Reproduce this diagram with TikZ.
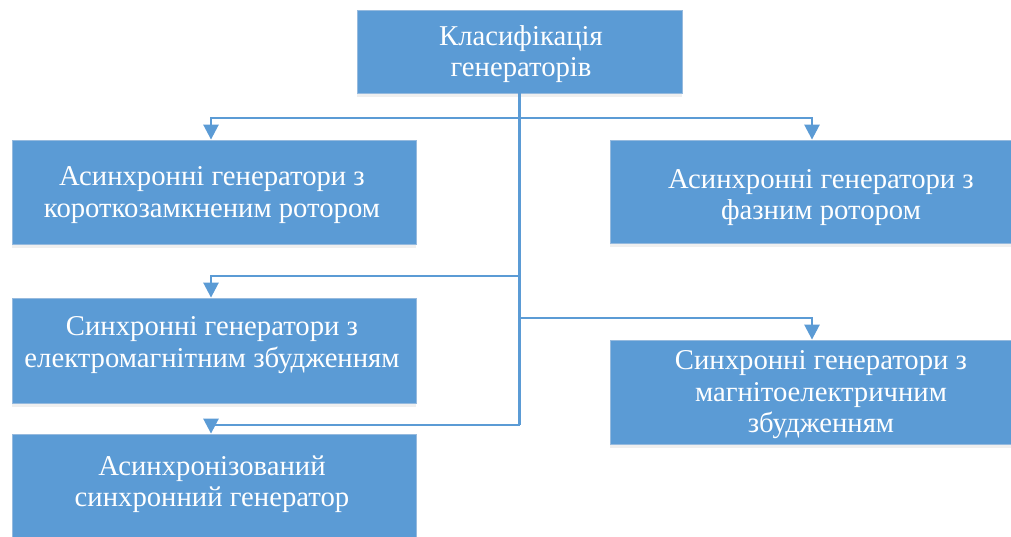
\documentclass[tikz,border=0pt]{standalone}
\usepackage{fontspec}
\setmainfont{Liberation Serif}
\usetikzlibrary{arrows.meta,shadows}
\definecolor{boxblue}{RGB}{91,155,213}
\definecolor{boxedge}{RGB}{150,186,222}
\definecolor{linkblue}{RGB}{91,155,213}
\tikzset{
  box/.style={rectangle, fill=boxblue, draw=boxedge, line width=0.8pt,
    inner sep=0pt, drop shadow={opacity=0.12, shadow xshift=0pt, shadow yshift=-4pt}},
  label txt/.style={text=white, align=center, inner sep=0pt,
    font=\fontsize{28.7}{31.5}\selectfont},
  link/.style={draw=linkblue, line width=2.6pt},
  arr/.style={link, -{Triangle[width=15pt,length=15pt]}},
}
\begin{document}
\begin{tikzpicture}[x=1pt,y=-1pt]
\useasboundingbox (0,0) rectangle (1011,537);
\clip (0,0) rectangle (1011,537);
\fill[white] (0,0) rectangle (1011,537);

% boxes
\node[box, minimum width=325pt, minimum height=83pt] (top) at (519.5,51.5) {};
\node[box, minimum width=404pt, minimum height=104pt] (l1) at (214,192) {};
\node[box, minimum width=422pt, minimum height=103pt] (r1) at (821,191.5) {};
\node[box, minimum width=404pt, minimum height=105pt] (l2) at (214,350.5) {};
\node[box, minimum width=422pt, minimum height=104pt] (r2) at (821,392) {};
\node[box, minimum width=404pt, minimum height=104pt] (l3) at (214,486) {};

% texts
\node[label txt] (topt) at (521,54) {Класифікація\\генераторів};
\node[label txt] (l1t) at (212,195) {Асинхронні генератори з\\короткозамкненим ротором};
\node[label txt] (r1t) at (821,197.5) {Асинхронні генератори з\\фазним ротором};
\node[label txt] (l2t) at (212,345) {Синхронні генератори з\\електромагнітним збудженням};
\node[label txt] (r2t) at (821,395) {Синхронні генератори з\\магнітоелектричним\\збудженням};
\node[label txt] (l3t) at (212,484) {Асинхронізований\\синхронний генератор};

% connectors
\coordinate (j1) at (519.5,118);
\coordinate (j2) at (519.5,276);
\coordinate (j3) at (519.5,318);
\coordinate (j4) at (519.5,425);
\draw[link] (top.south) -- (j4);
\draw[arr] (j1) -| ([xshift=-3pt]l1.north);
\draw[arr] (j1) -| ([xshift=-9pt]r1.north);
\draw[arr] (j2) -| ([xshift=-3pt]l2.north);
\draw[arr] (j3) -| ([xshift=-9pt]r2.north);
\draw[arr] (j4) -| ([xshift=-3pt]l3.north);
\end{tikzpicture}
\end{document}
